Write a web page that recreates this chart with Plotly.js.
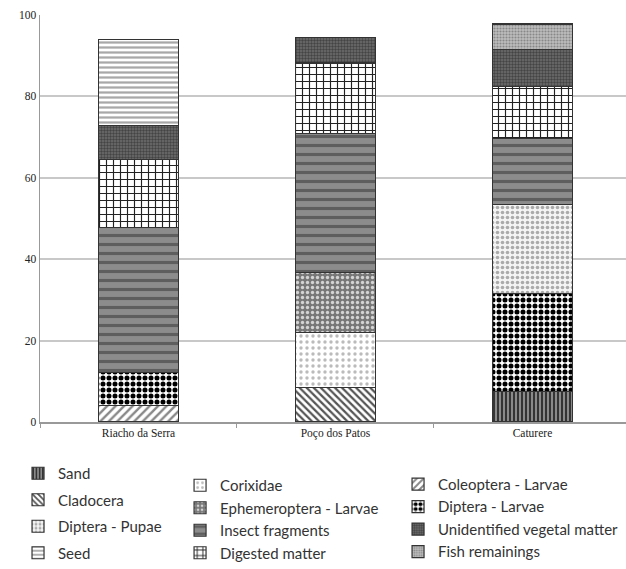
<!DOCTYPE html>
<html>
<head>
<meta charset="utf-8">
<script src="https://cdn.plot.ly/plotly-3.0.1.min.js"></script>
<style>html,body{margin:0;padding:0;background:#fff;}#chart{width:626px;height:569px;}</style>
</head>
<body>
<div id="chart"></div>
<script>
const sites = ["Riacho da Serra", "Poço dos Patos", "Caturere"];
const yTicks = [0, 20, 40, 60, 80, 100];

const sand          = [null, null, 7.4];
const cladocera     = [null, 8.5, null];
const coleopteraL   = [4.0, null, null];
const corixidae     = [null, 13.5, null];
const dipteraL      = [8.2, null, 24.2];
const dipteraP      = [null, null, 21.8];
const ephemeropteraL= [null, 14.8, null];
const insectFrag    = [35.6, 34.1, 16.2];
const digested      = [16.6, 17.3, 12.9];
const unidVegetal   = [8.5, 6.3, 9.1];
const seed          = [21.1, null, null];
const fish          = [null, null, 6.2];

const series = [
  {name: "Sand", y: sand, legend: "legend", pat: {shape: "|", fgcolor: "#2a2a2a", bgcolor: "#8a8a8a", size: 4, solidity: 0.45}},
  {name: "Cladocera", y: cladocera, legend: "legend", pat: {shape: "\\", fgcolor: "#555", bgcolor: "#fff", size: 5, solidity: 0.45}},
  {name: "Coleoptera - Larvae", y: coleopteraL, legend: "legend3", pat: {shape: "/", fgcolor: "#888", bgcolor: "#fff", size: 6, solidity: 0.4}},
  {name: "Corixidae", y: corixidae, legend: "legend2", pat: {shape: ".", fgcolor: "#bbb", bgcolor: "#fff", size: 6, solidity: 0.25}},
  {name: "Diptera - Larvae", y: dipteraL, legend: "legend3", pat: {shape: ".", fgcolor: "#000", bgcolor: "#fff", size: 6, solidity: 0.55}},
  {name: "Diptera - Pupae", y: dipteraP, legend: "legend", pat: {shape: ".", fgcolor: "#aaa", bgcolor: "#f4f4f4", size: 5, solidity: 0.4}},
  {name: "Ephemeroptera - Larvae", y: ephemeropteraL, legend: "legend2", pat: {shape: ".", fgcolor: "#d4d4d4", bgcolor: "#777", size: 5, solidity: 0.35}},
  {name: "Insect fragments", y: insectFrag, legend: "legend2", pat: {shape: "-", fgcolor: "#5e5e5e", bgcolor: "#8c8c8c", size: 9, solidity: 0.35}},
  {name: "Digested matter", y: digested, legend: "legend2", pat: {shape: "+", fgcolor: "#222", bgcolor: "#fff", size: 7, solidity: 0.3}},
  {name: "Unidentified vegetal matter", y: unidVegetal, legend: "legend3", pat: {shape: ".", fgcolor: "#444", bgcolor: "#6e6e6e", size: 3, solidity: 0.5}},
  {name: "Seed", y: seed, legend: "legend", pat: {shape: "-", fgcolor: "#a8a8a8", bgcolor: "#fff", size: 5, solidity: 0.45}},
  {name: "Fish remainings", y: fish, legend: "legend3", pat: {shape: ".", fgcolor: "#888", bgcolor: "#bdbdbd", size: 3, solidity: 0.4}}
];

const traces = series.map((s, i) => ({
  type: "bar",
  x: sites,
  y: s.y,
  name: s.name,
  legend: s.legend,
  legendgroup: "g" + i,
  width: 0.405,
  marker: {color: s.pat.bgcolor, line: {color: "#333", width: 1.2}, pattern: s.pat},
  hoverinfo: "name+y"
}));

const legFont = {family: "Lato, 'Open Sans', sans-serif", size: 15, color: "#333"};
const legBase = {orientation: "v", traceorder: "grouped", tracegroupgap: 0, font: legFont,
                 bgcolor: "rgba(0,0,0,0)", xanchor: "left", yanchor: "top", itemwidth: 30};

const layout = {
  width: 626, height: 569,
  margin: {l: 40, r: 0, t: 15, b: 146},
  paper_bgcolor: "#fff", plot_bgcolor: "#fff",
  barmode: "stack",
  showlegend: true,
  xaxis: {
    type: "category", range: [-0.5, 2.475],
    showline: true, linecolor: "#999", linewidth: 1.5,
    ticks: "outside", tickson: "boundaries", ticklen: 4, tickcolor: "#999",
    tickfont: {family: "'Liberation Serif', 'DejaVu Serif', serif", size: 11.5, color: "#222"},
    showgrid: false
  },
  yaxis: {
    range: [0, 100], tickvals: yTicks,
    showline: true, linecolor: "#999", linewidth: 1.5,
    showgrid: true, gridcolor: "#c8c8c8", gridwidth: 2,
    tickfont: {family: "'Liberation Serif', 'DejaVu Serif', serif", size: 11.5, color: "#222"},
    ticks: "", zeroline: false
  },
  legend: Object.assign({}, legBase, {x: -0.0375, y: -0.085, tracegroupgap: 4}),
  legend2: Object.assign({}, legBase, {x: 0.239, y: -0.115}),
  legend3: Object.assign({}, legBase, {x: 0.611, y: -0.110})
};

Plotly.newPlot("chart", traces, layout, {displayModeBar: false, staticPlot: true});
</script>
</body>
</html>
